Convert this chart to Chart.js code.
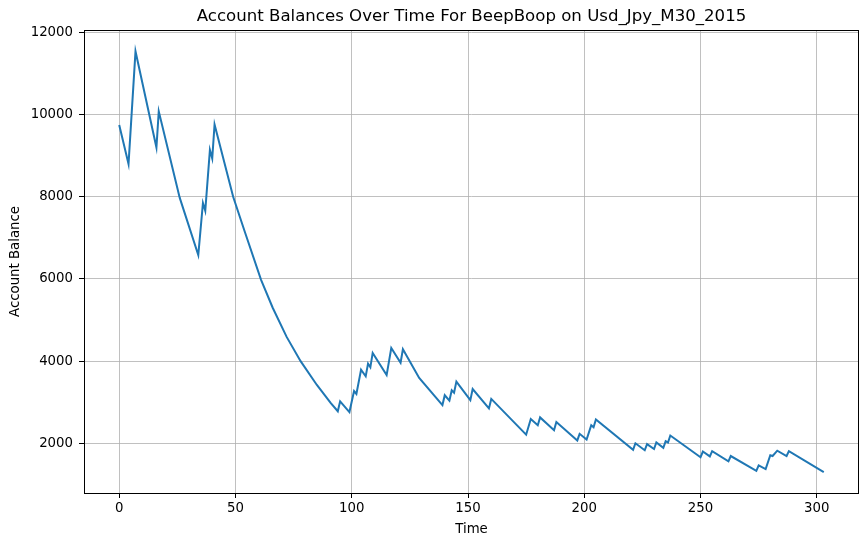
<!DOCTYPE html>
<html>
<head>
<meta charset="utf-8">
<script src="https://cdn.jsdelivr.net/npm/chart.js@4/dist/chart.umd.min.js"></script>
<style>
  html, body { margin: 0; padding: 0; background: #fff; }
  canvas { display: block; }
</style>
</head>
<body>
<canvas id="balance-chart" width="868" height="545"></canvas>
<script>
// values (peaks, troughs and a few points on the curves)
const times = [0, 4, 7, 16, 17, 26, 34, 36, 37, 39, 40, 41, 49, 54, 61, 66, 72, 78, 85, 91, 94,
    95, 99, 101, 102, 104, 106, 107, 108, 109, 115, 117, 121, 122, 129, 139, 140, 142, 143, 144, 145,
    151, 152, 159, 160, 175, 177, 180, 181, 187, 188, 197, 198, 201, 203, 204, 205, 221, 222, 226, 227,
    230, 231, 234, 235, 236, 237, 250, 251, 254, 255, 262, 263, 274, 275, 278, 280, 281, 283, 287, 288, 303];
const balances = [9750, 8800, 11540, 9200, 10080, 7980, 6580, 7850, 7660, 9140, 8930, 9760, 8000, 7150, 5980, 5300, 4590, 4000, 3420, 2980, 2780,
    3020, 2760, 3270, 3200, 3790, 3630, 3940, 3850, 4200, 3660, 4320, 3960, 4290, 3590, 2930, 3170, 3040, 3290, 3230, 3500,
    3050, 3320, 2850, 3080, 2210, 2590, 2440, 2630, 2320, 2520, 2070, 2230, 2090, 2440, 2390, 2580, 1840, 2000, 1830, 1980,
    1860, 2020, 1890, 2050, 2020, 2190, 1660, 1800, 1680, 1810, 1560, 1690, 1330, 1460, 1370, 1710, 1690, 1820, 1690, 1810, 1300];
const xTicks = [0, 50, 100, 150, 200, 250, 300];
const yTicks = [2000, 4000, 6000, 8000, 10000, 12000];

const FONT = "'DejaVu Sans', sans-serif";
const TITLE = 'Account Balances Over Time For BeepBoop on Usd_Jpy_M30_2015';

// black frame round the plot and a title centred over the plot area (matplotlib style)
const frame = {
    id: 'frame',
    afterDraw(chart) {
        const a = chart.chartArea;
        const ctx = chart.ctx;
        ctx.save();
        ctx.strokeStyle = '#000';
        ctx.lineWidth = 1;
        ctx.strokeRect(Math.round(a.left) + 0.5, Math.round(a.top) + 0.5,
            Math.round(a.right - a.left) - 1, Math.round(a.bottom - a.top));
        ctx.fillStyle = '#000';
        ctx.font = '16.6px ' + FONT;
        ctx.textAlign = 'center';
        ctx.textBaseline = 'middle';
        ctx.fillText(TITLE, (a.left + a.right) / 2, 17);
        ctx.restore();
    }
};

const ctx = document.getElementById('balance-chart').getContext('2d');
new Chart(ctx, {
    type: 'line',
    data: {
        datasets: [{
            data: times.map((t, i) => ({x: t, y: balances[i]})),
            borderColor: '#1f77b4',
            borderWidth: 2,
            pointRadius: 0,
            tension: 0,
            fill: false
        }]
    },
    options: {
        responsive: false,
        animation: false,
        devicePixelRatio: 1,
        layout: { padding: { top: 30, right: 9, left: 0, bottom: 0 } },
        plugins: {
            legend: { display: false },
            tooltip: { enabled: false },
            title: { display: false }
        },
        scales: {
            x: {
                type: 'linear',
                min: -15.15,
                max: 318.15,
                afterBuildTicks: s => { s.ticks = xTicks.map(v => ({value: v})); },
                afterFit: s => { s.height = 52; },
                ticks: { color: '#000', font: { family: FONT, size: 13.3 }, padding: 3, maxRotation: 0, autoSkip: false,
                    callback: v => String(v) },
                grid: { color: '#b0b0b0', lineWidth: 0.8, tickLength: 5, tickColor: '#000', tickWidth: 1 },
                border: { display: false },
                title: { display: true, text: 'Time', color: '#000', font: { family: FONT, size: 13.3 }, padding: { top: 0, bottom: 7 } }
            },
            y: {
                min: 790,
                max: 12060,
                afterBuildTicks: s => { s.ticks = yTicks.map(v => ({value: v})); },
                afterFit: s => { s.width = 84; },
                ticks: { color: '#000', font: { family: FONT, size: 13.3 }, padding: 6, autoSkip: false,
                    callback: v => String(v) },
                grid: { color: '#b0b0b0', lineWidth: 0.8, tickLength: 5, tickColor: '#000', tickWidth: 1 },
                border: { display: false },
                title: { display: true, text: 'Account Balance', color: '#000', font: { family: FONT, size: 13.3 }, padding: { top: 8, bottom: 0 } }
            }
        }
    },
    plugins: [frame]
});
</script>
</body>
</html>
